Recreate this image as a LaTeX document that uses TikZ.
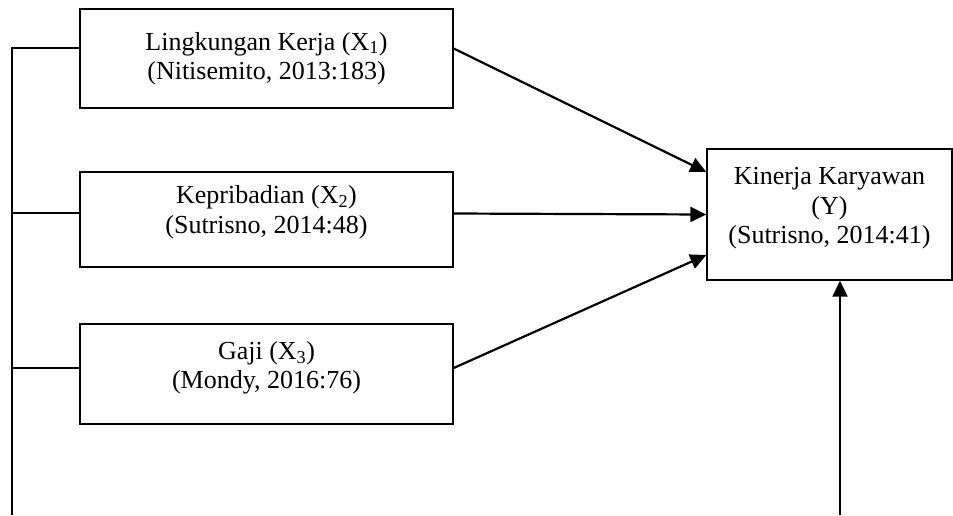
\documentclass[tikz,border=0pt]{standalone}
\usepackage{fontspec}
\setmainfont{Liberation Serif}
\usetikzlibrary{arrows.meta}

\tikzset{
  kotak/.style={draw, line width=1.4pt, minimum width=373pt, inner sep=0pt},
  teks/.style={align=center, inner sep=0pt, font=\fontsize{26}{29.5}\selectfont},
  garis/.style={line width=2.2pt},
  panah/.style={line width=2.2pt, -{Triangle[length=16pt,width=15pt]}}
}

\begin{document}
\begin{tikzpicture}[x=1pt, y=-1pt]
    \useasboundingbox (0,0) rectangle (953,515);

    % draw boxes
    \node[kotak, minimum height=99pt] (x1) at (266.5,58.5) {};
    \node[kotak, minimum height=95pt] (x2) at (266.5,219.5) {};
    \node[kotak, minimum height=100pt] (x3) at (266.5,374) {};
    \node[kotak, minimum width=245pt, minimum height=131pt] (y) at (829.5,214.5) {};

    % draw texts
    \node[teks] (t1) at ([yshift=0pt]x1.center) {Lingkungan Kerja (X\textsubscript{1})\\(Nitisemito, 2013:183)};
    \node[teks] (t2) at ([yshift=7.5pt]x2.center) {Kepribadian (X\textsubscript{2})\\(Sutrisno, 2014:48)};
    \node[teks] (t3) at ([yshift=6pt]x3.center) {Gaji (X\textsubscript{3})\\(Mondy, 2016:76)};
    \node[teks] (ty) at ([yshift=6pt]y.center) {Kinerja Karyawan\\(Y)\\(Sutrisno, 2014:41)};

    % draw left line
    \coordinate (kiri) at (12,515);
    \draw[garis] ([yshift=10.5pt]x1.west) -| (kiri);
    \draw[garis] ([yshift=6.5pt]x2.west) -- ([yshift=6.5pt]x2.west -| kiri);
    \draw[garis] ([yshift=6pt]x3.west) -- ([yshift=6pt]x3.west -| kiri);

    % draw arrows
    \draw[panah] ([yshift=10pt]x1.east) -- ([yshift=42.5pt]y.west);
    \draw[panah] ([yshift=6pt]x2.east) -- (y.west);
    \draw[panah] ([yshift=6pt]x3.east) -- ([yshift=-40.5pt]y.west);
    \coordinate (kanan) at (840,515);
    \draw[panah] (kanan) -- (kanan |- y.south);
\end{tikzpicture}
\end{document}
